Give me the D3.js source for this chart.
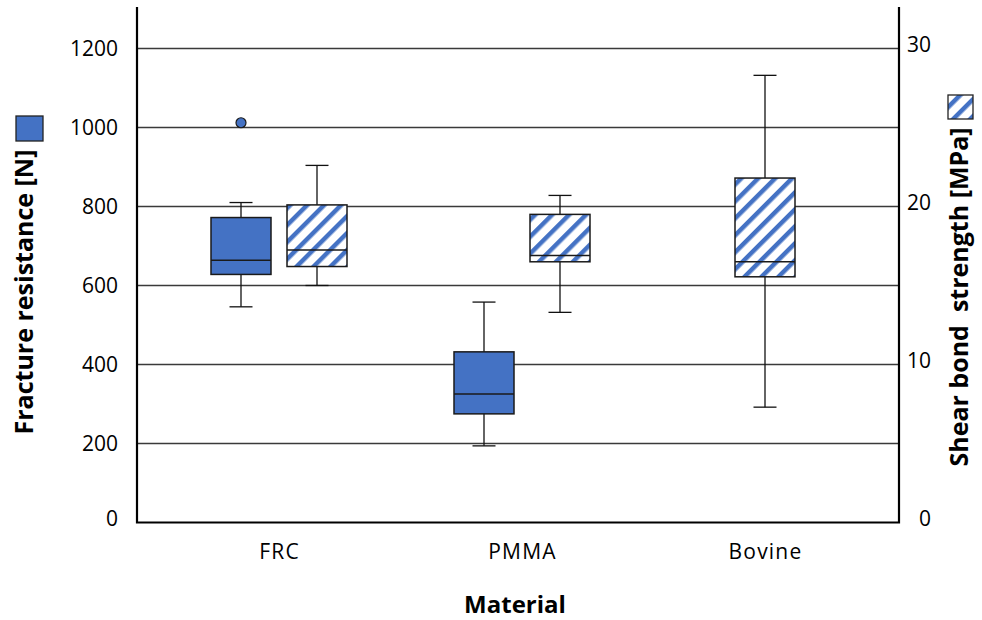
<!DOCTYPE html>
<meta charset="utf-8">
<style>
body { margin: 0; background: #fff; }
svg { font-family: "Open Sans", "Noto Sans", sans-serif; }
.tick text { fill: #000; }
</style>
<svg width="982" height="620"></svg>
<script src="https://cdn.jsdelivr.net/npm/d3@7"></script>
<script>

// categories on the x axis
var categories = ["FRC", "PMMA", "Bovine"];

// fracture resistance [N]: min, q1, median, q3, max (null = not tested)
var fractureStats = [
  [546, 628, 664, 772, 810],
  [194, 275, 325, 432, 558],
  null
];
var fractureOutliers = [[1012], [], []];

// shear bond strength [MPa]: min, q1, median, q3, max
var bondStats = [
  [15.0, 16.2, 17.25, 20.1, 22.6],
  [13.3, 16.5, 16.9, 19.5, 20.7],
  [7.3, 15.55, 16.5, 21.8, 28.3]
];

var leftTicks = [0, 200, 400, 600, 800, 1000, 1200];
var rightTicks = [0, 10, 20, 30];

var blue = "#4472C4";
var font = '"Open Sans", "Noto Sans", sans-serif';

var svg = d3.select("svg"),
    width = +svg.attr("width"),
    height = +svg.attr("height");

var margin = {top: 7, right: 83, bottom: 97.5, left: 137};
var x0 = margin.left, x1 = width - margin.right,
    yBottom = height - margin.bottom;

var y = d3.scaleLinear().domain([0, 1305]).range([yBottom, margin.top]);
var y2 = d3.scaleLinear().domain([0, 1305 / 40]).range([yBottom, margin.top]);

var x = d3.scalePoint().domain(categories).range([x0 + 142, x1 - 134]);

var boxW = 60, capW = 23, shift = 38;

// hatch pattern
var defs = svg.append("defs");
var pat = defs.append("pattern")
    .attr("id", "hatch")
    .attr("patternUnits", "userSpaceOnUse")
    .attr("width", 12).attr("height", 12)
    .attr("patternTransform", "rotate(45)");
pat.append("rect").attr("width", 12).attr("height", 12).attr("fill", "#fff");
pat.append("rect").attr("width", 4.5).attr("height", 12).attr("fill", blue);

// grid lines
svg.append("g")
    .selectAll("line")
    .data(leftTicks.filter(function(d) { return d > 0; }))
    .enter().append("line")
      .attr("x1", x0).attr("x2", x1)
      .attr("y1", function(d) { return y(d); })
      .attr("y2", function(d) { return y(d); })
      .attr("stroke", "#3a3a3a")
      .attr("stroke-width", 1.3);

// left axis labels
var gl = svg.append("g")
    .attr("transform", "translate(" + (x0 - 19) + ",0)")
    .call(d3.axisLeft(y).tickValues(leftTicks).tickFormat(d3.format("d")).tickSize(0).tickPadding(0))
    .attr("font-family", font).attr("font-size", 21);
gl.select(".domain").remove();
gl.selectAll("text").attr("dy", function(d) { return d === 0 ? "0.12em" : "0.32em"; });

// right axis labels
var gr = svg.append("g")
    .attr("transform", "translate(" + (x1 + 32) + ",0)")
    .call(d3.axisRight(y2).tickValues(rightTicks).tickSize(0).tickPadding(0))
    .attr("font-family", font).attr("font-size", 21);
gr.select(".domain").remove();
gr.selectAll("text").attr("text-anchor", "end").attr("dy", "0.15em");

// x labels
var gx = svg.append("g")
    .attr("transform", "translate(0," + yBottom + ")")
    .call(d3.axisBottom(x).tickSize(0).tickPadding(21))
    .attr("font-family", font).attr("font-size", 21);
gx.select(".domain").remove();
gx.selectAll("text").attr("letter-spacing", "1.2px").attr("dy", "0.75em");

function drawBox(g, cx, s, yScale, fill) {
  var bx = g.append("g");
  // whisker
  bx.append("line").attr("x1", cx).attr("x2", cx)
      .attr("y1", yScale(s[0])).attr("y2", yScale(s[4]))
      .attr("stroke", "#111").attr("stroke-width", 1.3);
  [s[0], s[4]].forEach(function(v) {
    bx.append("line").attr("x1", cx - capW / 2).attr("x2", cx + capW / 2)
        .attr("y1", yScale(v)).attr("y2", yScale(v))
        .attr("stroke", "#111").attr("stroke-width", 1.3);
  });
  bx.append("rect")
      .attr("x", cx - boxW / 2).attr("width", boxW)
      .attr("y", yScale(s[3])).attr("height", yScale(s[1]) - yScale(s[3]))
      .attr("fill", fill).attr("stroke", "#1a1a1a").attr("stroke-width", 1.5);
  bx.append("line").attr("x1", cx - boxW / 2).attr("x2", cx + boxW / 2)
      .attr("y1", yScale(s[2])).attr("y2", yScale(s[2]))
      .attr("stroke", "#1a1a1a").attr("stroke-width", 1.5);
}

var boxes = svg.append("g");
categories.forEach(function(c, i) {
  var both = fractureStats[i] && bondStats[i];
  if (fractureStats[i]) {
    var cx = x(c) - (both ? shift : 0);
    drawBox(boxes, cx, fractureStats[i], y, blue);
    boxes.selectAll(null).data(fractureOutliers[i]).enter().append("circle")
        .attr("cx", cx).attr("cy", function(d) { return y(d); })
        .attr("r", 5).attr("fill", blue).attr("stroke", "#1a1a1a").attr("stroke-width", 1.2);
  }
  if (bondStats[i]) {
    drawBox(boxes, x(c) + (both ? shift : 0), bondStats[i], y2, "url(#hatch)");
  }
});

// axis lines
svg.append("path")
    .attr("d", "M" + x0 + "," + margin.top + "V" + yBottom + "H" + x1 + "V" + margin.top)
    .attr("fill", "none").attr("stroke", "#000").attr("stroke-width", 2.2);

// left title + legend
svg.append("text")
    .attr("transform", "translate(33,292) rotate(-90)")
    .attr("text-anchor", "middle")
    .attr("font-size", 25).attr("font-weight", "bold")
    .text("Fracture resistance [N]");
svg.append("rect").attr("x", 16).attr("y", 116).attr("width", 27).attr("height", 25)
    .attr("fill", blue).attr("stroke", "#222").attr("stroke-width", 1.3);

// right title + legend
svg.append("text")
    .attr("transform", "translate(968,297) rotate(-90)")
    .attr("text-anchor", "middle")
    .attr("font-size", 25).attr("font-weight", "bold")
    .style("white-space", "pre")
    .text("Shear bond  strength [MPa]");
svg.append("rect").attr("x", 948).attr("y", 95).attr("width", 25).attr("height", 24)
    .attr("fill", "url(#hatch)").attr("stroke", "#222").attr("stroke-width", 1.3);

// x title
svg.append("text")
    .attr("x", 515).attr("y", 613)
    .attr("text-anchor", "middle")
    .attr("font-size", 24).attr("font-weight", "bold")
    .text("Material");

</script>
